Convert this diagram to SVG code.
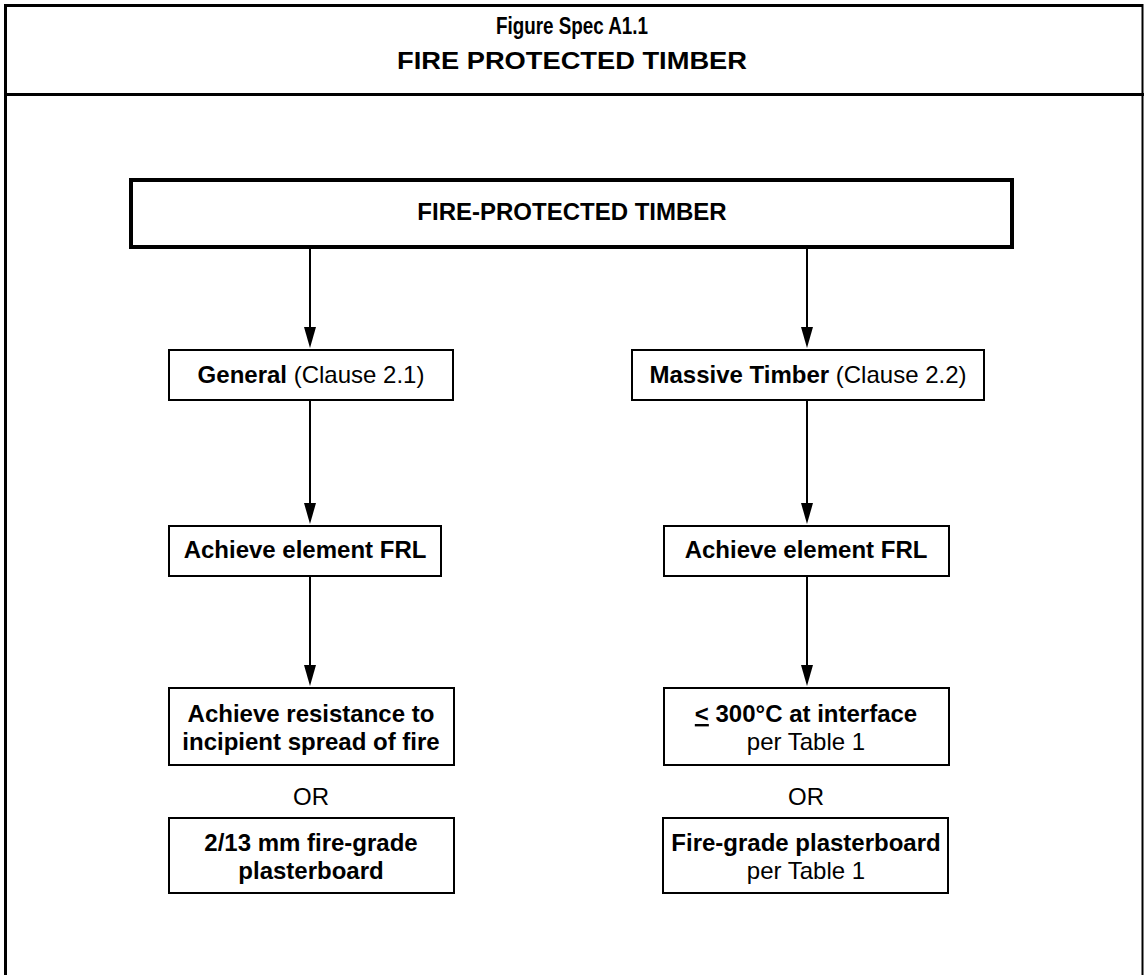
<svg xmlns="http://www.w3.org/2000/svg" width="1144" height="975" viewBox="0 0 1144 975">
<style>
.frame{fill:none;stroke:#000;stroke-width:3}
.box{fill:#fff;stroke:#000;stroke-width:2}
.bigbox{fill:#fff;stroke:#000;stroke-width:4}
.conn{fill:none;stroke:#000;stroke-width:2}
text{font-family:"Liberation Sans",Arial,sans-serif;font-size:24px;fill:#000;text-anchor:middle}
.b{font-weight:bold}
.n{font-weight:normal}
.hd{font-weight:bold}
</style>
<rect fill="#fff" x="0" y="0" width="1144" height="975"/>
<g id="frame">
<path class="frame" d="M5.5,990 V5.5 H1142"/>
<line x1="1142.5" y1="4" x2="1142.5" y2="990" stroke="#000" stroke-width="2"/>
<line x1="4" y1="94.5" x2="1144" y2="94.5" stroke="#000" stroke-width="3"/>
<text class="hd" x="572" y="34" font-size="24" textLength="152" lengthAdjust="spacingAndGlyphs">Figure Spec A1.1</text>
<text class="hd" x="572" y="69" font-size="27" textLength="350" lengthAdjust="spacingAndGlyphs">FIRE PROTECTED TIMBER</text>
</g>
<g id="connectors">
<line class="conn" x1="310" y1="249" x2="310" y2="328"/>
<path d="M304,327 L316,327 L310,348 Z"/>
<line class="conn" x1="807" y1="249" x2="807" y2="328"/>
<path d="M801,327 L813,327 L807,348 Z"/>
<line class="conn" x1="310" y1="400" x2="310" y2="504"/>
<path d="M304,503 L316,503 L310,524 Z"/>
<line class="conn" x1="807" y1="400" x2="807" y2="504"/>
<path d="M801,503 L813,503 L807,524 Z"/>
<line class="conn" x1="310" y1="576" x2="310" y2="666"/>
<path d="M304,665 L316,665 L310,686 Z"/>
<line class="conn" x1="807" y1="576" x2="807" y2="666"/>
<path d="M801,665 L813,665 L807,686 Z"/>
</g>
<g id="n_top">
<rect class="bigbox" x="131" y="180" width="881" height="67"/>
<text class="b" x="572" y="220">FIRE-PROTECTED TIMBER</text>
</g>
<g id="n_general">
<rect class="box" x="169" y="350" width="284" height="50"/>
<text x="311" y="383"><tspan class="b">General</tspan><tspan class="n"> (Clause 2.1)</tspan></text>
</g>
<g id="n_massive">
<rect class="box" x="632" y="350" width="352" height="50"/>
<text x="808" y="383"><tspan class="b">Massive Timber</tspan><tspan class="n"> (Clause 2.2)</tspan></text>
</g>
<g id="n_frl_left">
<rect class="box" x="169" y="526" width="272" height="50"/>
<text class="b" x="305" y="558">Achieve element FRL</text>
</g>
<g id="n_frl_right">
<rect class="box" x="664" y="526" width="285" height="50"/>
<text class="b" x="806" y="558">Achieve element FRL</text>
</g>
<g id="n_resist">
<rect class="box" x="169" y="688" width="285" height="77"/>
<text class="b" x="311" y="722">Achieve resistance to</text>
<text class="b" x="311" y="750">incipient spread of fire</text>
</g>
<g id="n_300">
<rect class="box" x="664" y="688" width="285" height="77"/>
<text class="b" x="806" y="722"><tspan text-decoration="underline">&lt;</tspan> 300°C at interface</text>
<text class="n" x="806" y="750">per Table 1</text>
</g>
<g id="or_left"><text class="n" x="311" y="805">OR</text></g>
<g id="or_right"><text class="n" x="806" y="805">OR</text></g>
<g id="n_plaster_left">
<rect class="box" x="169" y="818" width="285" height="75"/>
<text class="b" x="311" y="851">2/13 mm fire-grade</text>
<text class="b" x="311" y="879">plasterboard</text>
</g>
<g id="n_plaster_right">
<rect class="box" x="663" y="818" width="285" height="75"/>
<text class="b" x="806" y="851">Fire-grade plasterboard</text>
<text class="n" x="806" y="879">per Table 1</text>
</g>
</svg>
